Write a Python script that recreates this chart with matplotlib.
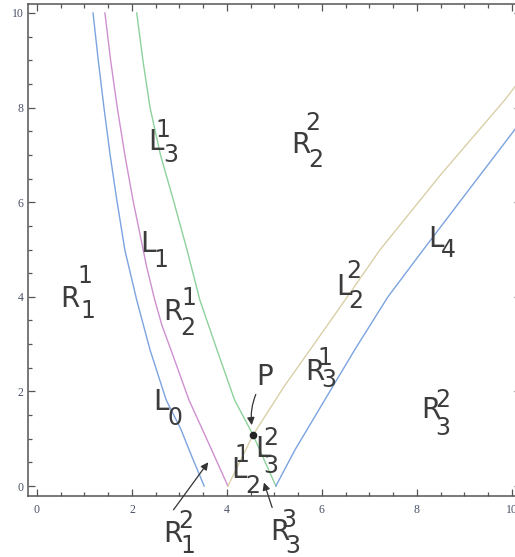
import matplotlib.pyplot as plt
from matplotlib.transforms import offset_copy

# curves (x, y)
l0_x = [1.18, 1.29, 1.41, 1.54, 1.68, 1.85, 2.10, 2.38, 2.72, 3.03, 3.27, 3.52]
l0_y = [10.0, 9.0, 8.0, 7.0, 6.05, 4.99, 3.93, 2.88, 1.82, 1.2, 0.6, 0.0]

l1_x = [1.43, 1.55, 1.69, 1.85, 2.02, 2.31, 2.48, 2.63, 2.82, 3.20, 3.68, 4.02]
l1_y = [10.0, 9.0, 8.0, 7.0, 6.05, 4.63, 3.93, 3.4, 2.88, 1.82, 0.76, 0.0]

l3_x = [2.10, 2.23, 2.38, 2.60, 2.87, 3.16, 3.43, 3.79, 4.16, 4.55, 5.03]
l3_y = [10.0, 9.0, 8.0, 7.0, 6.05, 4.99, 3.93, 2.88, 1.82, 1.08, 0.0]

l2_x = [4.02, 4.55, 5.2, 5.75, 6.5, 7.22, 8.5, 9.85, 10.2]
l2_y = [0.0, 1.08, 2.1, 2.88, 3.95, 4.99, 6.58, 8.16, 8.62]

l4_x = [5.03, 5.43, 6.0, 6.69, 7.39, 8.13, 9.1, 10.02, 10.2]
l4_y = [0.0, 0.76, 1.72, 2.88, 4.0, 4.99, 6.27, 7.48, 7.72]

p_x, p_y = 4.55, 1.08

txt = "#3c3c3c"

fig = plt.figure(figsize=(5.15, 5.57), dpi=100)
ax = fig.add_axes([0.0534, 0.1104, 0.959, 0.8833])

ax.plot(l0_x, l0_y, color="#7ba3e0", lw=1.0)
ax.plot(l1_x, l1_y, color="#cf8fd0", lw=1.0)
ax.plot(l3_x, l3_y, color="#8dd19b", lw=1.0)
ax.plot(l2_x, l2_y, color="#d9d0a8", lw=1.0)
ax.plot(l4_x, l4_y, color="#7ba3e0", lw=1.0)
ax.plot([p_x], [p_y], "o", color="#222222", ms=4.5)

ax.set_xlim(-0.2, 10.2)
ax.set_ylim(-0.2, 10.2)
ax.set_xticks([0, 2, 4, 6, 8, 10])
ax.set_yticks([0, 2, 4, 6, 8, 10])
ax.set_xticks([i * 0.5 for i in range(21)], minor=True)
ax.set_yticks([i * 0.5 for i in range(21)], minor=True)
ax.tick_params(which="both", direction="in", top=True, right=True,
               color="#555555", width=0.9)
ax.tick_params(which="major", length=5, labelsize=8.5, labelcolor="#4a5068")
ax.tick_params(which="minor", length=2.8)
ax.tick_params(axis="x", pad=6)
ax.tick_params(axis="y", pad=3)
for t in ax.get_xticklabels() + ax.get_yticklabels():
    t.set_family("Liberation Serif")
for s in ax.spines.values():
    s.set_color("#555555")
    s.set_linewidth(1.1)


def label(x, y, base, sub="", sup="", sub_off=(15, -14), sup_off=(15, 15)):
    x = x - 0.04
    ax.text(x, y, base, fontsize=20, color=txt, ha="left", va="baseline")
    if sup:
        tr = offset_copy(ax.transData, fig, sup_off[0], sup_off[1], units="dots")
        ax.text(x, y, sup, transform=tr, fontsize=17, color=txt,
                ha="left", va="baseline", clip_on=False)
    if sub:
        tr = offset_copy(ax.transData, fig, sub_off[0], sub_off[1], units="dots")
        ax.text(x, y, sub, transform=tr, fontsize=17, color=txt,
                ha="left", va="baseline", clip_on=False)


label(0.53, 3.78, "R", "1", "1", (20, -11), (17, 24))
label(2.21, 4.95, "L", "1", "", (13, -15))
label(2.695, 3.51, "R", "2", "1", (17, -15), (18, 15))
label(2.38, 7.10, "L", "3", "1", (15, -12), (7, 13))
label(5.39, 7.04, "R", "2", "2", (17, -14), (14, 23))
label(8.27, 5.05, "L", "4", "", (13, -10))
label(6.34, 4.04, "L", "2", "2", (12, -13), (10, 17))
label(5.68, 2.24, "R", "3", "1", (16, -7), (13, 15))
label(4.65, 2.135, "P")
label(2.48, 1.61, "L", "0", "", (15, -15))
label(8.13, 1.44, "R", "3", "2", (14, -17), (14, 11))
label(4.63, 0.61, "L", "3", "2", (8, -16), (8, 12))
label(4.13, 0.17, "L", "2", "1", (14, -15), (3, 16))
label(2.695, -1.18, "R", "1", "2", (17, -11), (15, 14))
label(4.95, -1.14, "R", "3", "3", (15, -13), (11, 13))

arrow = dict(arrowstyle="-|>", color="#333333", lw=0.9, mutation_scale=11)
ax.annotate("", xy=(3.64, 0.55), xytext=(2.84, -0.55), arrowprops=arrow,
            annotation_clip=False)
ax.annotate("", xy=(4.76, 0.13), xytext=(4.97, -0.51), arrowprops=arrow,
            annotation_clip=False)
ax.annotate("", xy=(4.53, 1.23), xytext=(4.63, 1.99),
            arrowprops=dict(arrow, connectionstyle="arc3,rad=0.15"),
            annotation_clip=False)

plt.savefig("out.png", dpi=100)
